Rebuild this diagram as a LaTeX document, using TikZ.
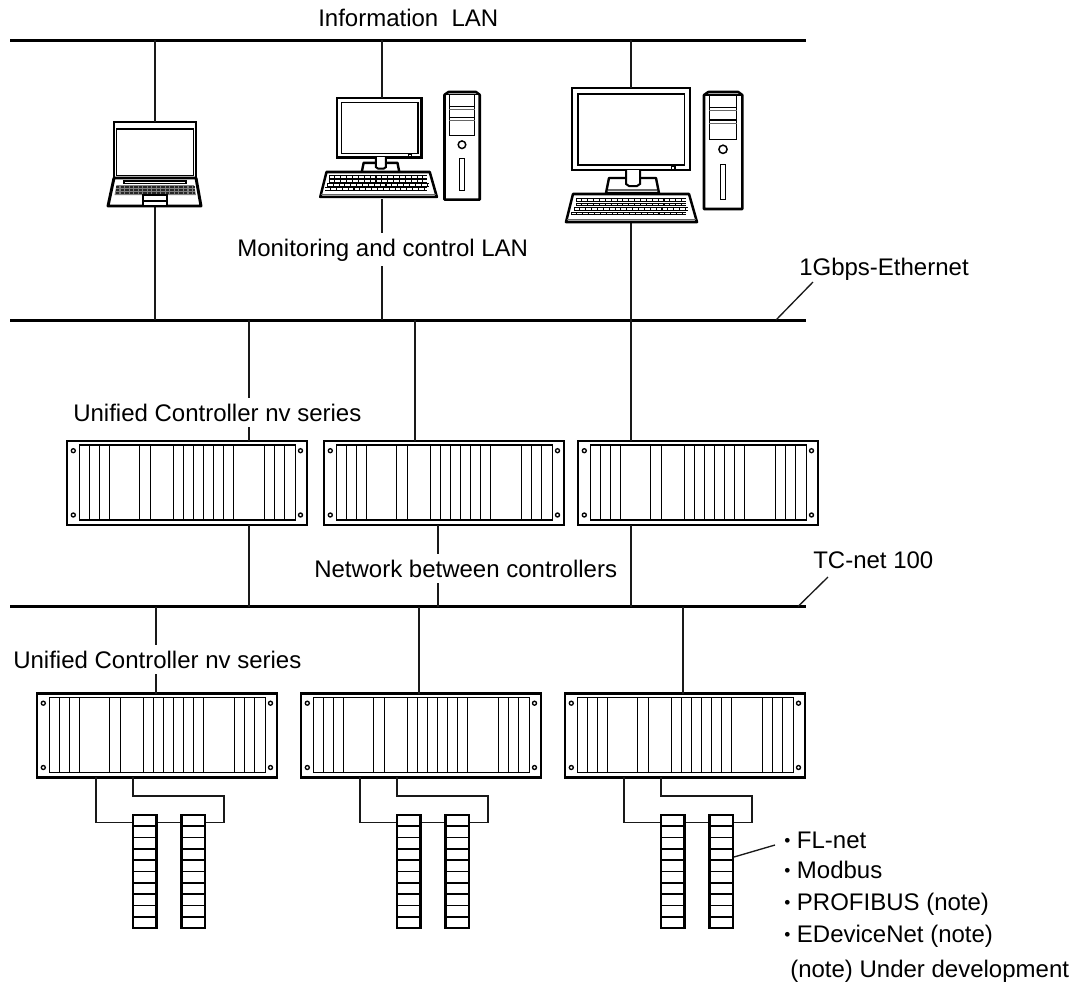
\documentclass[tikz,border=0pt]{standalone}
\usepackage{fontspec}
\setmainfont{Liberation Sans}
\tikzset{
  bus/.style={black,line width=1.9pt},
  wire/.style={black!90,line width=1pt},
  labeltext/.style={anchor=base west,inner xsep=0pt,inner ysep=0pt,font=\fontsize{18}{20}\selectfont},
  gaptext/.style={labeltext,fill=white,inner ysep=4pt},
  frame/.style={draw=black,fill=white,line width=2.2pt,inner sep=0pt,outer sep=0pt,anchor=north west},
  rackbox/.style={frame,minimum width=180pt,minimum height=63pt},
  iobox/.style={frame,line width=2pt,minimum width=17.5pt,minimum height=84.75pt},
  thinline/.style={black,line width=0.8pt},
}
% one keyboard row: black strip with white caps on it
\newcommand{\keyrow}[3]{%
  \draw[black,line width=2.8pt] (#1,#3) -- (#2,#3);
  \draw[white,line width=1.3pt,dash pattern=on 3.6pt off 0.8pt] (#1+0.5,#3) -- (#2-0.5,#3);
}
\newcommand{\pcmonitor}[4]{%
  \node[frame,minimum width={#4*88.5pt},minimum height={#4*61.5pt}] (#1) at (#2,#3) {};
  \begin{scope}[shift={(#2,#3)},scale=#4]
    \draw[thinline,line width=1.1pt] (6,6) rectangle (112.7,77);
    \draw[thinline] (99.5,78.5) rectangle (103,82);
    \draw[black,line width=1.8pt,fill=white,line join=round] (37,90) -- (84,90) -- (87,105) -- (34,105) -- cycle;
    \draw[black!60,line width=0.8pt] (36,102) -- (85,102);
    \draw[black,line width=1.5pt,fill=white] (54,82) -- (54,96) -- (57,98) -- (65,98) -- (68,96) -- (68,82);
  \end{scope}
}
\newcommand{\pckeyboard}[3]{%
  \begin{scope}[shift={(#1,#2)},scale=#3]
    \draw[black,fill=white,line width=1.9pt,line join=round] (0,0) -- (116,0) -- (124,28) -- (-7,28) -- cycle;
    \draw[black!60,line width=1.1pt] (-6,25.5) -- (123,25.5);
    \keyrow{3}{113}{6}
    \keyrow{3}{113}{10.5}
    \keyrow{1}{115}{15}
    \keyrow{-2}{113}{19.5}
  \end{scope}
}
\newcommand{\pctower}[3]{%
  \begin{scope}[shift={(#1,#2)},scale=#3]
    \draw[black,fill=white,line width=1.9pt,line join=round] (0,3) -- (4.3,0) -- (34.3,0) -- (38.3,3) -- (38.3,117) -- (0,117) -- cycle;
    \draw[thinline] (0,3) -- (38.3,3);
    \draw[thinline,line width=1.1pt] (5.3,3) rectangle (32.7,47.3);
    \draw[thinline] (5.3,15.3) -- (32.7,15.3) (5.3,28) -- (32.7,28);
    \draw[thinline,black!60] (5.3,18.7) -- (32.7,18.7) (5.3,31.3) -- (32.7,31.3);
    \draw[thinline,line width=1.1pt] (19,57.3) circle (3.1pt);
    \draw[thinline,line width=1.1pt] (16.3,72.3) rectangle (21.7,107.3);
  \end{scope}
}
\begin{document}
\begin{tikzpicture}[x=0.75pt,y=-0.75pt]
  \useasboundingbox (0,0) rectangle (1079,983);
  % the three networks
  \coordinate (infoW) at (10,40.5);
  \coordinate (infoE) at (806,40.5);
  \coordinate (ethW) at (10,320.5);
  \coordinate (ethE) at (806,320.5);
  \coordinate (tcW) at (10,606.5);
  \coordinate (tcE) at (806,606.5);
  \draw[bus] (infoW) -- (infoE);
  \draw[bus] (ethW) -- (ethE);
  \draw[bus] (tcW) -- (tcE);
  % leaders of the network names
  \coordinate (ethFoot) at (776,320);
  \coordinate (ethTip) at (813,282);
  \coordinate (tcFoot) at (798,606.5);
  \coordinate (tcTip) at (828,577);
  \draw[wire] (ethFoot) -- (ethTip);
  \draw[wire] (tcFoot) -- (tcTip);
  % terminals
  \node[frame,minimum width=61.5pt,minimum height=42pt] (lapA) at (114,122) {};
  \pcmonitor{monB}{337}{98}{0.72}
  \pcmonitor{monC}{572}{88}{1}
  \coordinate (lapFoot) at (155,206);
  \coordinate (kbdBFoot) at (382,199);
  \coordinate (kbdCFoot) at (631,222);
  \draw[wire] (155,40) -- (lapA.north -| 155,40);
  \draw[wire] (lapFoot) -- (155,320);
  \draw[wire] (382,40) -- (monB.north -| 382,40);
  \draw[wire] (kbdBFoot) -- (382,320);
  \draw[wire] (631,40) -- (monC.north -| 631,40);
  \draw[wire] (kbdCFoot) -- (631,320);
  % laptop lid and base
  \draw[thinline,line width=1.1pt] (116.7,129) rectangle (193.3,175.7);
  \draw[black,fill=white,line width=2.2pt,line join=round] (114,178) -- (196,178) -- (201,206) -- (108,206) -- cycle;
  \draw[thinline] (124,181) rectangle (186,183.3);
  \fill[black!50] (116.5,185) -- (194,185) -- (196,195) -- (114.5,195) -- cycle;
  \foreach \keyy in {187,190,193}
    \draw[black!85,line width=1pt,dash pattern=on 2.6pt off 0.8pt] (116,\keyy) -- (195,\keyy);
  \draw[black,fill=white,line width=1.5pt] (143,195) rectangle (167,206);
  \draw[thinline] (143,201) -- (167,201);
  % desktop keyboards and towers
  \pckeyboard{326.5}{172}{0.89}
  \pctower{444.5}{92}{0.92}
  \pckeyboard{573}{194}{1}
  \pctower{704}{92}{1}
  % controllers, upper row
  \foreach \rackname/\rackx/\racky in {ctrlA/67/441,ctrlB/324/441,ctrlC/578/441,ctrlD/37/693.5,ctrlE/301/693.5,ctrlF/565/693.5} {
    \node[rackbox] (\rackname) at (\rackx,\racky) {};
    \begin{scope}[shift={(\rackx,\racky)}]
      \draw[thinline,line width=1.05pt] (12.5,4) rectangle (228.5,79);
      \foreach \slotx in {22.5,32.5,42.5,72.5,83.5,106.5,116.5,126.5,136.5,146.5,156.5,166.5,197.5,207.5,217.5}
        \draw[thinline,line width=1.05pt] (\slotx,4) -- (\slotx,79);
      \foreach \screwx/\screwy in {6.3/9.7,6.3/74,233.5/9.7,233.5/74}
        \draw[black,line width=1pt] (\screwx,\screwy) circle (1.5pt);
    \end{scope}
  }
  \coordinate (tapA) at (249,320);
  \coordinate (tapB) at (415,320);
  \coordinate (tapC) at (631,320);
  \coordinate (dropA) at (249,606.5);
  \coordinate (dropB) at (438,606.5);
  \coordinate (dropC) at (631,606.5);
  \draw[wire] (tapA) -- (tapA |- ctrlA.north);
  \draw[wire] (tapB) -- (tapB |- ctrlB.north);
  \draw[wire] (tapC) -- (tapC |- ctrlC.north);
  \draw[wire] (dropA) -- (dropA |- ctrlA.south);
  \draw[wire] (dropB) -- (dropB |- ctrlB.south);
  \draw[wire] (dropC) -- (dropC |- ctrlC.south);
  % controllers, lower row
  \coordinate (tapD) at (156,606.5);
  \coordinate (tapE) at (419,606.5);
  \coordinate (tapF) at (683,606.5);
  \draw[wire] (tapD) -- (tapD |- ctrlD.north);
  \draw[wire] (tapE) -- (tapE |- ctrlE.north);
  \draw[wire] (tapF) -- (tapF |- ctrlF.north);
  % remote I/O under each lower controller
  \foreach \rackname/\rackx in {ctrlD/37,ctrlE/301,ctrlF/565} {
    \coordinate (\rackname-a) at (\rackx+59,777);
    \coordinate (\rackname-b) at (\rackx+96,777);
    \coordinate (\rackname-low) at (\rackx+59,822.5);
    \coordinate (\rackname-high) at (\rackx+187,796);
    \coordinate (\rackname-back) at (\rackx+187,822.5);
    \draw[wire] (\rackname-a) -- (\rackname-low) -- (\rackname-back) -- (\rackname-high) -- (\rackname-high -| \rackname-b) -- (\rackname-b);
    \foreach \iox/\ioname in {96/one,144.5/two} {
      \node[iobox] (\rackname-\ioname) at (\rackx+\iox,815) {};
      \foreach \cell in {1,...,9}
        \draw[black,line width=1.25pt] (\rackx+\iox,815+11.3*\cell) -- ++(23.3,0);
    }
  }
  \coordinate (ioTip) at (775,845);
  \coordinate (ioFoot) at (734,857);
  \draw[wire] (ioFoot) -- (ioTip);
  % names
  \node[labeltext] (infoName) at (318,26) {Information\ \ LAN};
  \node[gaptext] (monName) at (237,256) {Monitoring and control LAN};
  \node[labeltext] (ethName) at (799,275) {1Gbps-Ethernet};
  \node[gaptext] (ctrlNameUp) at (73,421) {Unified Controller nv series};
  \node[gaptext] (netName) at (314,577) {Network between controllers};
  \node[labeltext] (tcName) at (813,568) {TC-net 100};
  \node[gaptext] (ctrlNameLow) at (13,668) {Unified Controller nv series};
  % field bus list
  \foreach \busname/\busy/\bustext in {flnet/848/FL-net,modbus/878/Modbus,profibus/910/PROFIBUS (note),devnet/942/EDeviceNet (note)}
    \node[labeltext] (\busname) at (784,\busy) {\makebox[9.5pt][l]{\fontsize{13}{13}\selectfont\raisebox{1.5pt}{\textbullet}}\bustext};
  \node[labeltext] (noteName) at (790,977) {(note) Under development};
\end{tikzpicture}
\end{document}
